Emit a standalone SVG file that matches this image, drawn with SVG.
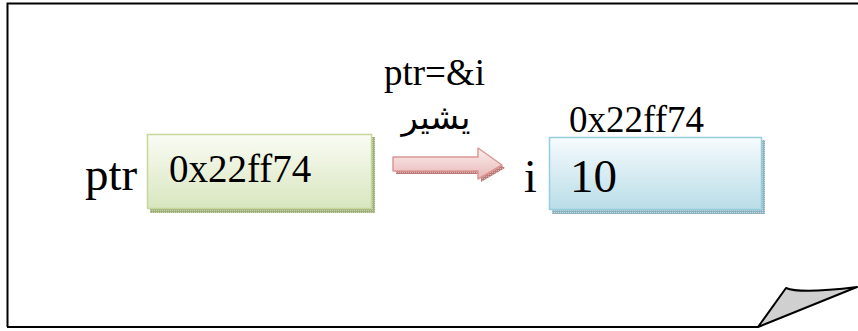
<svg xmlns="http://www.w3.org/2000/svg" width="858" height="331" viewBox="0 0 858 331">
<defs>
<linearGradient id="gGreen" x1="0" y1="0" x2="0" y2="1"><stop offset="0" stop-color="#fafcf4"/><stop offset="1" stop-color="#d8e6bf"/></linearGradient>
<linearGradient id="gBlue" x1="0" y1="0" x2="0" y2="1"><stop offset="0" stop-color="#f7fbfd"/><stop offset="1" stop-color="#b9dde8"/></linearGradient>
<linearGradient id="gRed" x1="0" y1="0" x2="0" y2="1"><stop offset="0" stop-color="#fbeeee"/><stop offset="1" stop-color="#e8b7b6"/></linearGradient>
<pattern id="shG" width="2" height="2" patternUnits="userSpaceOnUse"><rect width="2" height="2" fill="#9fb07a"/><rect width="1" height="1" fill="#c8d4ad"/></pattern>
<pattern id="shB" width="2" height="2" patternUnits="userSpaceOnUse"><rect width="2" height="2" fill="#8fb3bf"/><rect width="1" height="1" fill="#c0d7de"/></pattern>
<pattern id="shR" width="2" height="2" patternUnits="userSpaceOnUse"><rect width="2" height="2" fill="#b97a78"/><rect width="1" height="1" fill="#dcb0ae"/></pattern>
</defs>
<style>
.t{font-family:"Liberation Serif","Times New Roman",serif;fill:#000}
.ar{font-family:"DejaVu Sans","Noto Sans",sans-serif;fill:#000}
</style>
<g id="page">
<path d="M7.5 327 V3.5 H858" fill="none" stroke="#000" stroke-width="2"/>
<path d="M7 327 H758" fill="none" stroke="#000" stroke-width="2"/>
<path d="M758 327 L786 288 Q800 294 857 287 Z" fill="#d0d0d0" stroke="#000" stroke-width="2" stroke-linejoin="round"/>
</g>
<g id="ptr-node">
<text class="t" x="85" y="190" font-size="47">ptr</text>
<rect x="150" y="137" width="225" height="76" fill="url(#shG)"/>
<rect x="147.5" y="134.5" width="224" height="74" fill="url(#gGreen)" stroke="#c5d79d" stroke-width="1.5"/>
<text class="t" x="169" y="182" font-size="39">0x22ff74</text>
</g>
<g id="i-node">
<text class="t" x="524" y="192" font-size="46">i</text>
<text class="t" x="569" y="132" font-size="37">0x22ff74</text>
<rect x="552" y="140" width="213" height="74" fill="url(#shB)"/>
<rect x="549.5" y="137.5" width="212" height="72" fill="url(#gBlue)" stroke="#95cedd" stroke-width="1.5"/>
<text class="t" x="570" y="192" font-size="47">10</text>
</g>
<g id="connectors">
<path d="M396 160 H481 V151 L505 168 L481 182 V174 H396 Z" fill="url(#shR)"/>
<path d="M393 157 H478 V148 L502 165 L478 179 V171 H393 Z" fill="url(#gRed)" stroke="#dc9896" stroke-width="1.5" stroke-linejoin="round"/>
<text class="t" x="384" y="85" font-size="37">ptr=&amp;i</text>
<text class="ar" x="436" y="129" font-size="34" text-anchor="middle">يشير</text>
</g>
</svg>
